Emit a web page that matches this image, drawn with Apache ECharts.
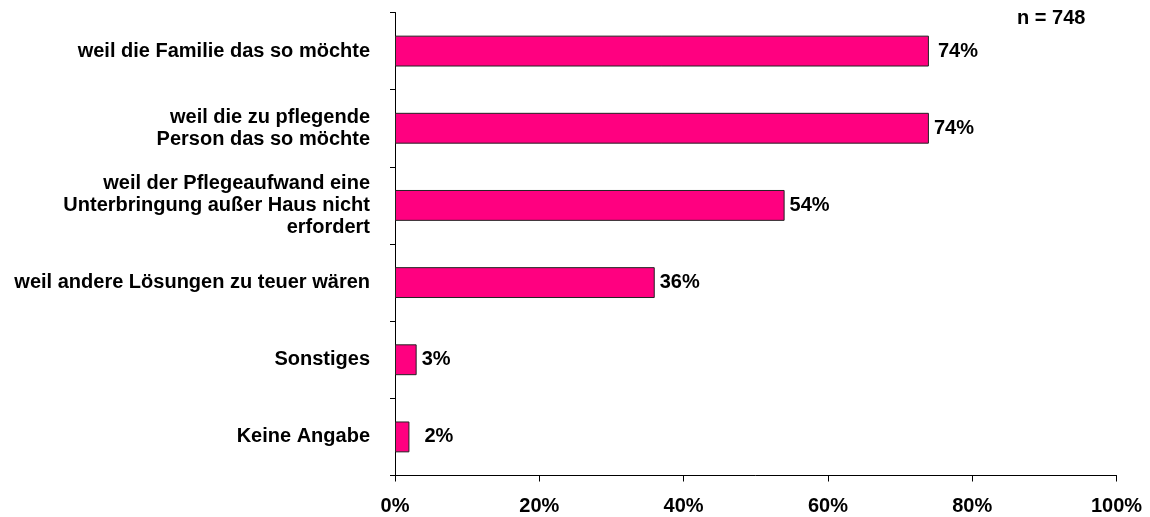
<!DOCTYPE html>
<html>
<head>
<meta charset="utf-8">
<script src="https://cdn.jsdelivr.net/npm/echarts@6/dist/echarts.min.js"></script>
<style>
  html, body { margin: 0; padding: 0; background: #fff; }
  #main { width: 1150px; height: 517px; }
</style>
</head>
<body>
<div id="main"></div>
<script>
// Gründe für die Pflege zu Hause
var categories = [
  'weil die Familie das so möchte',
  'weil die zu pflegende\nPerson das so möchte',
  'weil der Pflegeaufwand eine\nUnterbringung außer Haus nicht\nerfordert',
  'weil andere Lösungen zu teuer wären',
  'Sonstiges',
  'Keine Angabe'
];
var values = [74, 74, 54, 36, 3, 2];
var xTicks = [0, 20, 40, 60, 80, 100];
var sampleNote = 'n = 748';

var font = "'Liberation Sans', Arial, sans-serif";

var chart = echarts.init(document.getElementById('main'));
chart.setOption({
  animation: false,
  backgroundColor: '#fff',
  textStyle: { fontFamily: font },
  grid: { left: 395, right: 33.5, top: 12.5, bottom: 41.5 },
  xAxis: {
    type: 'value',
    min: xTicks[0],
    max: xTicks[xTicks.length - 1],
    interval: xTicks[1] - xTicks[0],
    axisLine: { show: true, lineStyle: { color: '#000', width: 1 } },
    axisTick: { show: true, length: 6, lineStyle: { color: '#000' } },
    splitLine: { show: false },
    axisLabel: {
      margin: 21,
      color: '#000',
      fontWeight: 'bold',
      fontSize: 20,
      fontFamily: font,
      formatter: '{value}%'
    }
  },
  yAxis: {
    type: 'category',
    inverse: true,
    data: categories,
    axisLine: { show: true, lineStyle: { color: '#000', width: 1 } },
    axisTick: { show: true, length: 5, lineStyle: { color: '#000' } },
    axisLabel: {
      margin: 25,
      color: '#000',
      fontWeight: 'bold',
      fontSize: 20,
      lineHeight: 22,
      fontFamily: font,
      align: 'right'
    }
  },
  series: [{
    type: 'bar',
    barWidth: '40%',
    data: values.map(function (v, i) {
      return {
        value: v,
        label: { distance: i === 5 ? 15 : (i === 0 ? 9 : 5) }
      };
    }),
    itemStyle: { color: '#FF0080', borderColor: '#222', borderWidth: 1 },
    label: {
      show: true,
      position: 'right',
      color: '#000',
      fontWeight: 'bold',
      fontSize: 20,
      fontFamily: font,
      formatter: '{c}%'
    }
  }],
  graphic: [{
    type: 'text',
    left: 1017,
    top: 8,
    style: {
      text: sampleNote,
      fill: '#000',
      font: 'bold 20px ' + font
    }
  }]
});
</script>
</body>
</html>
